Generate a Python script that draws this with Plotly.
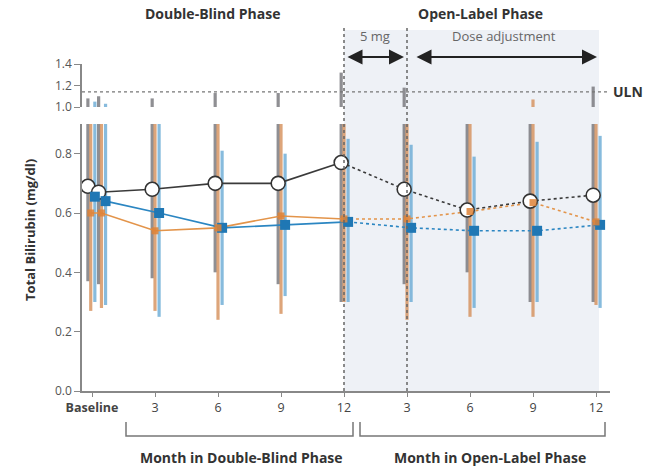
import plotly.graph_objects as go

# Visits: two baseline readings, then months 3-12 of each phase
visit_pos = [-0.02, 0.15, 1, 2, 3, 4, 5, 6, 7, 8]
tick_pos = [0, 1, 2, 3, 4, 5, 6, 7, 8]
tick_labels = ["<b>Baseline</b>", "3", "6", "9", "12", "3", "6", "9", "12"]
db_end = 5  # index of month 12 of the double-blind phase

uln = 1.14

# Group means (mg/dl)
gray_mean = [0.69, 0.67, 0.68, 0.70, 0.70, 0.77, 0.68, 0.61, 0.64, 0.66]
blue_mean = [0.655, 0.64, 0.60, 0.55, 0.56, 0.57, 0.55, 0.54, 0.54, 0.56]
orange_mean = [0.60, 0.60, 0.54, 0.55, 0.59, 0.58, 0.58, 0.605, 0.635, 0.57]

# Ranges (low / high)
gray_low = [0.37, 0.36, 0.38, 0.40, 0.36, 0.30, 0.36, 0.40, 0.30, 0.30]
gray_high = [1.08, 1.10, 1.08, 1.13, 1.13, 1.32, 1.18, 0.97, 0.96, 1.19]
orange_low = [0.27, 0.28, 0.27, 0.24, 0.26, 0.30, 0.24, 0.25, 0.25, 0.29]
orange_high = [0.95, 0.93, 0.95, 0.93, 0.94, 0.97, 0.95, 0.93, 1.07, 0.93]
blue_low = [0.30, 0.29, 0.25, 0.29, 0.32, 0.30, 0.30, 0.28, 0.30, 0.28]
blue_high = [1.05, 1.03, 0.90, 0.81, 0.80, 0.85, 0.83, 0.79, 0.84, 0.86]

FONT = "Open Sans"
W, H = 653, 469
ML, MR, MT, MB = 82, 43, 0, 78
PW, PH = W - ML - MR, H - MT - MB


def py(p):
    """pixel row -> paper y"""
    return (PH - p) / PH


def idx(px):
    """pixel column -> x data value"""
    return (px - 92) / 63.0


series = [
    # name, means, lows, highs, x offset, bar colour, line colour
    ("gray", gray_mean, gray_low, gray_high, -0.045, "rgba(115,115,120,0.8)", "#3a3a3a"),
    ("orange", orange_mean, orange_low, orange_high, 0.0, "rgba(210,135,78,0.75)", "#e3944a"),
    ("blue", blue_mean, blue_low, blue_high, 0.065, "rgba(105,170,212,0.8)", "#2b86c2"),
]

fig = go.Figure()

# range bars, drawn on both the lower and upper panels (clipped by each)
for name, mean, lo, hi, off, bcol, lcol in series:
    xs, ys = [], []
    for x, a, b in zip(visit_pos, lo, hi):
        xs += [x + off, x + off, None]
        ys += [a, b, None]
    for ax in ("y", "y2"):
        fig.add_trace(go.Scatter(x=xs, y=ys, yaxis=ax, mode="lines",
                                 line=dict(color=bcol, width=3.2),
                                 hoverinfo="skip", showlegend=False))

# mean lines: solid through the double-blind phase, dashed afterwards
for name, mean, lo, hi, off, bcol, lcol in series:
    xs = [x + off for x in visit_pos]
    fig.add_trace(go.Scatter(x=xs[:db_end + 1], y=mean[:db_end + 1], mode="lines",
                             line=dict(color=lcol, width=1.6), showlegend=False))
    fig.add_trace(go.Scatter(x=xs[db_end:], y=mean[db_end:], mode="lines",
                             line=dict(color=lcol, width=1.6, dash="3px,3px"),
                             showlegend=False))

# markers
g, o, b = series
fig.add_trace(go.Scatter(x=[x + g[4] for x in visit_pos], y=g[1], mode="markers",
                         marker=dict(symbol="circle", size=14, color="white",
                                     line=dict(color="#333333", width=1.6)),
                         showlegend=False))
fig.add_trace(go.Scatter(x=[x + b[4] for x in visit_pos], y=b[1], mode="markers",
                         marker=dict(symbol="square", size=10, color="#1f77b4",
                                     line=dict(width=0)),
                         showlegend=False))
fig.add_trace(go.Scatter(x=[x + o[4] for x in visit_pos], y=o[1], mode="markers",
                         marker=dict(symbol="square", size=7, color="rgba(222,130,55,0.85)",
                                     line=dict(width=0)),
                         showlegend=False))

shapes = [
    # open-label shading
    dict(type="rect", xref="x", yref="paper", x0=4, x1=idx(599), y0=0, y1=py(30),
         fillcolor="#eef1f6", line=dict(width=0), layer="below"),
    # phase dividers
    dict(type="line", xref="x", yref="paper", x0=4, x1=4, y0=0, y1=py(28),
         line=dict(color="#666666", width=1.5, dash="dot")),
    dict(type="line", xref="x", yref="paper", x0=5, x1=5, y0=0, y1=py(28),
         line=dict(color="#666666", width=1.5, dash="dot")),
    # ULN reference
    dict(type="line", xref="paper", yref="y2", x0=0, x1=1, y0=uln, y1=uln,
         line=dict(color="#777777", width=1.2, dash="3px,3px")),
    # month brackets
    dict(type="path", xref="paper", yref="paper",
         path=f"M {(126-ML)/PW},{py(422)} L {(126-ML)/PW},{py(436)} "
              f"L {(353-ML)/PW},{py(436)} L {(353-ML)/PW},{py(422)}",
         line=dict(color="#777777", width=1.5)),
    dict(type="path", xref="paper", yref="paper",
         path=f"M {(360-ML)/PW},{py(422)} L {(360-ML)/PW},{py(436)} "
              f"L {(605-ML)/PW},{py(436)} L {(605-ML)/PW},{py(422)}",
         line=dict(color="#777777", width=1.5)),
]


def label(text, x, y, size, color="#333", xref="x", yref="paper", **kw):
    d = dict(text=text, x=x, y=y, xref=xref, yref=yref, showarrow=False,
             xanchor="center", yanchor="middle", font=dict(size=size, color=color))
    d.update(kw)
    return d


annos = [
    label("<b>Double-Blind Phase</b>", idx(212), py(14), 14),
    label("<b>Open-Label Phase</b>", idx(480), py(14), 14),
    label("5 mg", idx(375), py(36), 13, color="#666"),
    label("Dose adjustment", idx(504), py(36), 13, color="#666"),
    label("<b>ULN</b>", (611 - ML) / PW, uln, 14, xref="paper", yref="y2",
          xanchor="left"),
    label("<b>Total Bilirubin (mg/dl)</b>", (30 - ML) / PW, py(230), 13,
          xref="paper", textangle=-90),
    label("<b>Month in Double-Blind Phase</b>", idx(241), py(457), 14),
    label("<b>Month in Open-Label Phase</b>", idx(490), py(457), 14),
]
# dosing arrows
for x0, x1 in ((346, 404), (415, 597)):
    annos.append(dict(text="", x=idx(x1), y=py(57), xref="x", yref="paper",
                      ax=idx(x0), ay=0, axref="x", ayref="pixel",
                      showarrow=True, arrowhead=2, arrowside="end+start",
                      arrowsize=1.5, arrowwidth=2, arrowcolor="#222"))

axis_common = dict(showline=True, linecolor="#888888", linewidth=1.6,
                   ticks="outside", ticklen=6, tickcolor="#888888", tickwidth=1.2,
                   showgrid=False, zeroline=False, automargin=False,
                   tickfont=dict(size=12, color="#555"))

fig.update_layout(
    width=W, height=H,
    margin=dict(l=ML, r=MR, t=MT, b=MB, autoexpand=False),
    paper_bgcolor="white", plot_bgcolor="rgba(0,0,0,0)",
    font=dict(family=FONT),
    xaxis=dict(range=[idx(ML), idx(ML + PW)], tickvals=tick_pos, ticktext=tick_labels,
               anchor="y", **{**axis_common, "ticklen": 4,
                              "tickfont": dict(size=12.5, color="#444")}),
    yaxis=dict(domain=[0, py(124)], range=[0, 0.9], tickvals=[0, 0.2, 0.4, 0.6, 0.8],
               tickformat=".1f", anchor="x", **axis_common),
    yaxis2=dict(domain=[py(107), py(64)], range=[1.0, 1.4], tickvals=[1.0, 1.2, 1.4],
                tickformat=".1f", anchor="x", **axis_common),
    shapes=shapes,
    annotations=annos,
)

fig.write_html("out.html")
